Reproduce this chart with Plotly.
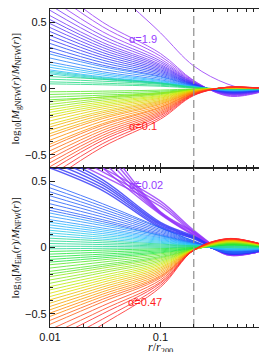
import math
import plotly.graph_objects as go
from plotly.subplots import make_subplots
from plotly.colors import sample_colorscale

# ---------------- data ----------------
R_KNOTS = [0.01, 0.03, 0.1, 0.2, 0.4, 0.7, 1.0]   # r / r200 sample points
R_DASH = 0.2
Y_RANGE = [-0.6, 0.6]

# top panel: gNFW inner slope alpha of every curve
TOP_ALPHA = [1.9, 1.9, 1.9, 1.9,
             1.8, 1.8, 1.8,
             1.7, 1.7, 1.7,
             1.6, 1.6, 1.6,
             1.5, 1.5, 1.5,
             1.4, 1.4, 1.4,
             1.3, 1.3, 1.3,
             1.2, 1.2, 1.2,
             1.1, 1.1, 1.1, 1.1,
             0.9, 0.9, 0.9, 0.9,
             0.8, 0.8, 0.8,
             0.7, 0.7, 0.7,
             0.6, 0.6, 0.6,
             0.5, 0.5, 0.5,
             0.4, 0.4, 0.4,
             0.3, 0.3, 0.3,
             0.2, 0.2, 0.2,
             0.1, 0.1, 0.1]

# log10[M_gNFW/M_NFW] at R_KNOTS, one row per curve
TOP_CURVES = [
    [1.50, 0.85, 0.42, 0.17, 0.035, -0.012, 0.0],
    [0.80, 0.50, 0.264, 0.060, -0.056, -0.040, 0.0],
    [0.74, 0.466, 0.244, 0.056, -0.052, -0.037, 0.0],
    [0.68, 0.428, 0.224, 0.051, -0.048, -0.034, 0.0],
    [0.63, 0.397, 0.208, 0.047, -0.044, -0.032, 0.0],
    [0.59, 0.372, 0.195, 0.044, -0.041, -0.030, 0.0],
    [0.55, 0.347, 0.182, 0.041, -0.039, -0.028, 0.0],
    [0.52, 0.328, 0.172, 0.039, -0.036, -0.026, 0.0],
    [0.49, 0.309, 0.162, 0.037, -0.034, -0.025, 0.0],
    [0.46, 0.290, 0.152, 0.035, -0.032, -0.023, 0.0],
    [0.43, 0.271, 0.142, 0.032, -0.030, -0.022, 0.0],
    [0.40, 0.252, 0.132, 0.030, -0.028, -0.020, 0.0],
    [0.37, 0.233, 0.122, 0.028, -0.026, -0.019, 0.0],
    [0.34, 0.214, 0.112, 0.026, -0.024, -0.017, 0.0],
    [0.31, 0.195, 0.102, 0.023, -0.022, -0.016, 0.0],
    [0.28, 0.176, 0.092, 0.021, -0.020, -0.014, 0.0],
    [0.26, 0.164, 0.086, 0.020, -0.018, -0.013, 0.0],
    [0.23, 0.145, 0.076, 0.017, -0.016, -0.012, 0.0],
    [0.20, 0.126, 0.066, 0.015, -0.014, -0.010, 0.0],
    [0.18, 0.113, 0.059, 0.014, -0.013, -0.009, 0.0],
    [0.16, 0.101, 0.053, 0.012, -0.011, -0.008, 0.0],
    [0.14, 0.088, 0.046, 0.011, -0.010, -0.007, 0.0],
    [0.13, 0.082, 0.043, 0.010, -0.009, -0.007, 0.0],
    [0.12, 0.076, 0.040, 0.009, -0.008, -0.006, 0.0],
    [0.11, 0.069, 0.036, 0.008, -0.008, -0.006, 0.0],
    [0.09, 0.070, 0.040, 0.010, -0.005, -0.004, 0.0],
    [0.07, 0.055, 0.032, 0.008, -0.004, -0.003, 0.0],
    [0.05, 0.040, 0.024, 0.006, -0.003, -0.002, 0.0],
    [0.035, 0.028, 0.017, 0.004, -0.002, -0.001, 0.0],
    [-0.025, -0.020, -0.012, -0.003, 0.001, 0.001, 0.0],
    [-0.045, -0.035, -0.021, -0.005, 0.001, 0.001, 0.0],
    [-0.065, -0.050, -0.030, -0.007, 0.002, 0.001, 0.0],
    [-0.085, -0.065, -0.038, -0.009, 0.002, 0.001, 0.0],
    [-0.10, -0.063, -0.033, -0.008, 0.002, 0.001, 0.0],
    [-0.12, -0.076, -0.040, -0.009, 0.002, 0.001, 0.0],
    [-0.14, -0.088, -0.046, -0.011, 0.002, 0.0015, 0.0],
    [-0.16, -0.101, -0.053, -0.012, 0.003, 0.002, 0.0],
    [-0.18, -0.113, -0.059, -0.014, 0.003, 0.002, 0.0],
    [-0.20, -0.126, -0.066, -0.015, 0.003, 0.002, 0.0],
    [-0.22, -0.139, -0.073, -0.017, 0.003, 0.002, 0.0],
    [-0.245, -0.154, -0.081, -0.018, 0.004, 0.0025, 0.0],
    [-0.27, -0.170, -0.089, -0.020, 0.004, 0.003, 0.0],
    [-0.29, -0.183, -0.096, -0.022, 0.004, 0.003, 0.0],
    [-0.315, -0.198, -0.104, -0.024, 0.005, 0.003, 0.0],
    [-0.34, -0.214, -0.112, -0.026, 0.005, 0.003, 0.0],
    [-0.36, -0.227, -0.119, -0.027, 0.005, 0.004, 0.0],
    [-0.39, -0.246, -0.129, -0.029, 0.006, 0.004, 0.0],
    [-0.42, -0.265, -0.139, -0.032, 0.006, 0.004, 0.0],
    [-0.44, -0.277, -0.145, -0.033, 0.007, 0.004, 0.0],
    [-0.47, -0.296, -0.155, -0.035, 0.007, 0.005, 0.0],
    [-0.50, -0.315, -0.165, -0.038, 0.008, 0.005, 0.0],
    [-0.53, -0.334, -0.175, -0.040, 0.008, 0.005, 0.0],
    [-0.56, -0.353, -0.185, -0.042, 0.008, 0.006, 0.0],
    [-0.59, -0.372, -0.195, -0.044, 0.009, 0.006, 0.0],
    [-0.62, -0.391, -0.205, -0.047, 0.009, 0.006, 0.0],
    [-0.66, -0.416, -0.218, -0.050, 0.010, 0.007, 0.0],
    [-0.70, -0.441, -0.231, -0.053, 0.010, 0.007, 0.0],
]

# bottom panel: Einasto index alpha-tilde of every curve
BOT_ALPHA = [0.02, 0.02, 0.02, 0.02, 0.02, 0.02, 0.02, 0.02,
             0.10, 0.10, 0.10, 0.10, 0.10,
             0.13, 0.13, 0.13, 0.13, 0.13, 0.13, 0.13, 0.13,
             0.155, 0.155, 0.155, 0.17, 0.17, 0.17, 0.185, 0.185, 0.185,
             0.215, 0.215, 0.215, 0.215, 0.215,
             0.245, 0.245, 0.245, 0.245, 0.245, 0.27, 0.27, 0.27, 0.27,
             0.295, 0.295, 0.295, 0.315, 0.315, 0.335, 0.335,
             0.36, 0.36, 0.38, 0.38, 0.40, 0.40,
             0.43, 0.43, 0.45, 0.45, 0.47, 0.47, 0.47]

# log10[M_Ein/M_NFW] at R_KNOTS, one row per curve
BOT_CURVES = [
    [0.95, 0.60, 0.25, 0.090, -0.055, -0.040, 0.0],
    [1.05, 0.65, 0.255, 0.095, -0.055, -0.040, 0.0],
    [1.12, 0.70, 0.26, 0.100, -0.050, -0.040, 0.0],
    [1.20, 0.75, 0.265, 0.110, -0.050, -0.035, 0.0],
    [1.28, 0.80, 0.27, 0.120, -0.045, -0.035, 0.0],
    [0.78, 0.57, 0.33, 0.120, -0.045, -0.040, 0.0],
    [0.82, 0.60, 0.35, 0.130, -0.040, -0.035, 0.0],
    [0.74, 0.54, 0.31, 0.110, -0.050, -0.040, 0.0],
    [0.60, 0.43, 0.15, 0.065, -0.045, -0.035, 0.0],
    [0.62, 0.45, 0.16, 0.070, -0.045, -0.035, 0.0],
    [0.65, 0.47, 0.17, 0.075, -0.045, -0.035, 0.0],
    [0.68, 0.49, 0.18, 0.080, -0.040, -0.035, 0.0],
    [0.71, 0.51, 0.19, 0.085, -0.040, -0.030, 0.0],
    [0.48, 0.33, 0.150, 0.050, -0.040, -0.030, 0.0],
    [0.45, 0.31, 0.145, 0.048, -0.038, -0.030, 0.0],
    [0.42, 0.29, 0.135, 0.045, -0.036, -0.028, 0.0],
    [0.39, 0.27, 0.125, 0.042, -0.034, -0.026, 0.0],
    [0.36, 0.25, 0.115, 0.039, -0.032, -0.025, 0.0],
    [0.33, 0.23, 0.105, 0.036, -0.030, -0.023, 0.0],
    [0.30, 0.21, 0.097, 0.033, -0.028, -0.021, 0.0],
    [0.28, 0.195, 0.090, 0.031, -0.026, -0.020, 0.0],
    [0.26, 0.180, 0.090, 0.030, -0.022, -0.018, 0.0],
    [0.235, 0.165, 0.082, 0.028, -0.020, -0.016, 0.0],
    [0.21, 0.147, 0.074, 0.026, -0.018, -0.015, 0.0],
    [0.19, 0.133, 0.067, 0.024, -0.016, -0.013, 0.0],
    [0.17, 0.119, 0.060, 0.022, -0.014, -0.012, 0.0],
    [0.15, 0.105, 0.053, 0.020, -0.012, -0.010, 0.0],
    [0.13, 0.091, 0.046, 0.018, -0.010, -0.008, 0.0],
    [0.11, 0.077, 0.039, 0.016, -0.006, -0.006, 0.0],
    [0.09, 0.063, 0.032, 0.014, -0.003, -0.004, 0.0],
    [0.07, 0.050, 0.026, 0.012, 0.000, -0.002, 0.0],
    [0.05, 0.036, 0.019, 0.010, 0.004, 0.001, 0.0],
    [0.03, 0.022, 0.012, 0.008, 0.008, 0.004, 0.0],
    [0.01, 0.008, 0.005, 0.005, 0.011, 0.007, 0.0],
    [-0.01, -0.006, -0.002, 0.003, 0.014, 0.009, 0.0],
    [-0.03, -0.020, -0.009, 0.000, 0.017, 0.011, 0.0],
    [-0.05, -0.035, -0.017, -0.003, 0.020, 0.013, 0.0],
    [-0.07, -0.050, -0.025, -0.006, 0.022, 0.014, 0.0],
    [-0.09, -0.064, -0.033, -0.008, 0.024, 0.015, 0.0],
    [-0.11, -0.078, -0.040, -0.010, 0.026, 0.016, 0.0],
    [-0.13, -0.093, -0.048, -0.012, 0.028, 0.018, 0.0],
    [-0.155, -0.110, -0.058, -0.013, 0.030, 0.019, 0.0],
    [-0.18, -0.128, -0.068, -0.014, 0.032, 0.020, 0.0],
    [-0.20, -0.142, -0.076, -0.015, 0.034, 0.021, 0.0],
    [-0.22, -0.156, -0.084, -0.015, 0.036, 0.023, 0.0],
    [-0.245, -0.174, -0.094, -0.016, 0.038, 0.024, 0.0],
    [-0.27, -0.190, -0.104, -0.016, 0.040, 0.025, 0.0],
    [-0.295, -0.210, -0.114, -0.017, 0.042, 0.027, 0.0],
    [-0.32, -0.228, -0.124, -0.017, 0.044, 0.028, 0.0],
    [-0.345, -0.245, -0.134, -0.018, 0.046, 0.029, 0.0],
    [-0.37, -0.262, -0.145, -0.018, 0.048, 0.030, 0.0],
    [-0.395, -0.280, -0.155, -0.018, 0.050, 0.032, 0.0],
    [-0.42, -0.298, -0.166, -0.019, 0.052, 0.033, 0.0],
    [-0.445, -0.316, -0.177, -0.019, 0.054, 0.034, 0.0],
    [-0.47, -0.334, -0.188, -0.019, 0.056, 0.035, 0.0],
    [-0.495, -0.352, -0.200, -0.020, 0.058, 0.036, 0.0],
    [-0.52, -0.370, -0.212, -0.020, 0.060, 0.037, 0.0],
    [-0.55, -0.390, -0.220, -0.020, 0.061, 0.038, 0.0],
    [-0.58, -0.410, -0.230, -0.020, 0.062, 0.038, 0.0],
    [-0.62, -0.440, -0.245, -0.020, 0.063, 0.039, 0.0],
    [-0.66, -0.470, -0.260, -0.020, 0.064, 0.040, 0.0],
    [-0.70, -0.500, -0.270, -0.020, 0.065, 0.040, 0.0],
    [-0.75, -0.540, -0.285, -0.020, 0.066, 0.040, 0.0],
    [-0.82, -0.580, -0.300, -0.020, 0.067, 0.041, 0.0],
]

TOP_LABELS = [("α=1.9", 0.069, 0.37), ("α=0.1", 0.069, -0.286)]
BOT_LABELS = [("α\u0303=0.02", 0.074, 0.47), ("α\u0303=0.47", 0.073, -0.41)]

X_TICKS = [0.01, 0.1, 1]
X_TICKTEXT = ["0.01", "0.1", "1"]
Y_TICKS = [-0.5, 0, 0.5]
Y_TICKTEXT = ["\u22120.5", "0", "0.5"]

# ---------------- style ----------------
RAINBOW = [[0.0, "rgb(150,55,250)"], [0.2, "rgb(35,50,250)"],
           [0.35, "rgb(40,200,255)"], [0.5, "rgb(30,230,60)"],
           [0.68, "rgb(215,235,0)"], [0.82, "rgb(255,150,0)"],
           [1.0, "rgb(255,40,40)"]]
PURPLE_TXT = "rgb(150,60,255)"
RED_TXT = "rgb(255,30,30)"
SANS = "Liberation Sans, Arial, sans-serif"
SERIF = "Liberation Serif, Times New Roman, serif"

fig = make_subplots(rows=2, cols=1, vertical_spacing=0)


def add_panel(curves, alphas, a_first, a_last, row, heavy):
    for ys, a in zip(curves, alphas):
        t = (a - a_first) / (a_last - a_first)
        col = sample_colorscale(RAINBOW, [min(max(t, 0), 1)])[0]
        w = 1.4 if a in heavy else 1.0
        fig.add_trace(go.Scatter(x=R_KNOTS, y=ys, mode="lines",
                                 line=dict(color=col, width=w, shape="spline",
                                           smoothing=1.0),
                                 opacity=0.8, hoverinfo="skip", showlegend=False),
                      row=row, col=1)
    fig.add_trace(go.Scatter(x=[R_DASH, R_DASH], y=Y_RANGE, mode="lines",
                             line=dict(color="rgb(150,150,150)", width=1.3,
                                       dash="8px,4px"),
                             hoverinfo="skip", showlegend=False), row=row, col=1)


add_panel(TOP_CURVES, TOP_ALPHA, 1.9, 0.1, 1, heavy=())
add_panel(BOT_CURVES, BOT_ALPHA, 0.02, 0.47, 2, heavy=(0.02, 0.10))

axis_common = dict(showline=True, linecolor="#222", linewidth=1.2,
                   mirror="allticks", ticks="inside", ticklen=5, tickwidth=1,
                   tickcolor="#222", showgrid=False, zeroline=False,
                   ticklabeloverflow="allow",
                   tickfont=dict(family=SANS, size=11, color="#111"))

X_LOG_RANGE = [math.log10(R_KNOTS[0]), math.log10(R_KNOTS[-1])]
for r in (1, 2):
    fig.update_xaxes(type="log", range=X_LOG_RANGE, autorange=False,
                     tickmode="array", tickvals=X_TICKS, ticktext=X_TICKTEXT,
                     showticklabels=(r == 2),
                     minor=dict(dtick="D1", ticks="inside", ticklen=3,
                                tickcolor="#222", showgrid=False),
                     row=r, col=1, **axis_common)
    fig.update_yaxes(range=Y_RANGE, autorange=False, tickmode="array",
                     tickvals=Y_TICKS, ticktext=Y_TICKTEXT,
                     minor=dict(dtick=0.1, tick0=0, ticks="inside", ticklen=3,
                                tickcolor="#222", showgrid=False),
                     row=r, col=1, **axis_common)

fig.update_layout(xaxis=dict(domain=[0, 1]), xaxis2=dict(domain=[0, 1]),
                  yaxis=dict(domain=[0.5, 1.0]), yaxis2=dict(domain=[0.0, 0.5]))

annos = []
for txt, rx, yy in TOP_LABELS:
    annos.append(dict(text=txt, x=math.log10(rx), y=yy, xref="x", yref="y",
                      showarrow=False, font=dict(family=SANS, size=11,
                      color=PURPLE_TXT if yy > 0 else RED_TXT)))
for txt, rx, yy in BOT_LABELS:
    annos.append(dict(text=txt, x=math.log10(rx), y=yy, xref="x2", yref="y2",
                      showarrow=False, font=dict(family=SANS, size=11,
                      color=PURPLE_TXT if yy > 0 else RED_TXT)))
annos.append(dict(text="log<sub>10</sub>[<i>M</i><sub>gNFW</sub>(<i>r</i>)/<i>M</i><sub>NFW</sub>(<i>r</i>)]",
                  x=-0.158, y=0.75, xref="paper", yref="paper", textangle=-90,
                  showarrow=False, xanchor="center", yanchor="middle",
                  font=dict(family=SERIF, size=11, color="#111")))
annos.append(dict(text="log<sub>10</sub>[<i>M</i><sub>Ein</sub>(<i>r</i>)/<i>M</i><sub>NFW</sub>(<i>r</i>)]",
                  x=-0.158, y=0.25, xref="paper", yref="paper", textangle=-90,
                  showarrow=False, xanchor="center", yanchor="middle",
                  font=dict(family=SERIF, size=11, color="#111")))
annos.append(dict(text="<i>r</i>/<i>r</i><sub>200</sub>", x=0.5, y=-0.097,
                  xref="paper", yref="paper", showarrow=False,
                  xanchor="center", yanchor="bottom",
                  font=dict(family=SERIF, size=12, color="#111")))

fig.update_layout(width=267, height=352, margin=dict(l=42, r=4, t=1, b=33),
                  paper_bgcolor="white", plot_bgcolor="white",
                  annotations=annos, showlegend=False)

fig.write_html("out.html")
